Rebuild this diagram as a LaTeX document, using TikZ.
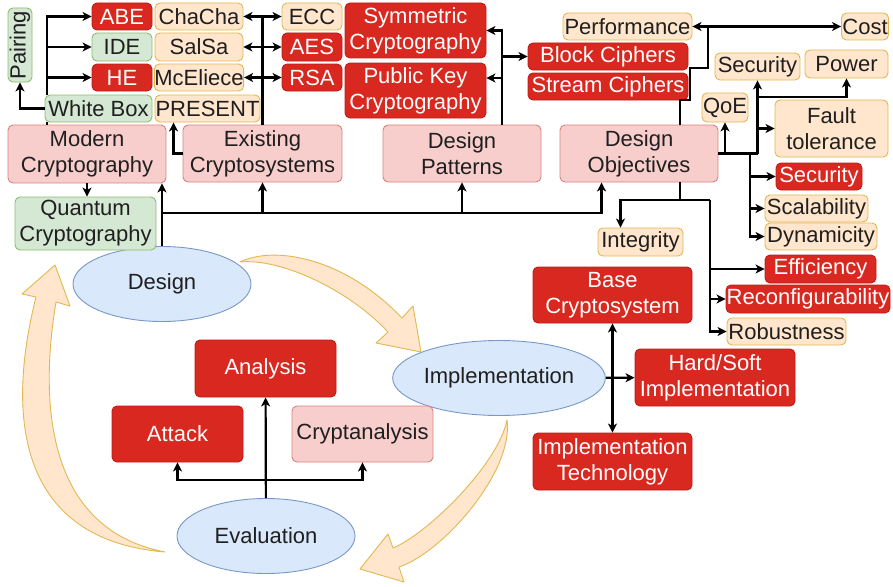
\documentclass[tikz,border=0pt]{standalone}
\usepackage{fontspec}
\setmainfont{Liberation Sans}
\usetikzlibrary{positioning,calc}
\usetikzlibrary{arrows.meta,shapes.geometric}

\definecolor{cred}{RGB}{216,40,32}
\definecolor{credline}{RGB}{190,30,25}
\definecolor{cpink}{RGB}{248,206,204}
\definecolor{cpinkline}{RGB}{214,130,128}
\definecolor{cpeach}{RGB}{255,230,204}
\definecolor{cpeachline}{RGB}{226,184,82}
\definecolor{cgreen}{RGB}{213,232,212}
\definecolor{cgreenline}{RGB}{140,188,112}
\definecolor{cblue}{RGB}{218,232,252}
\definecolor{cblueline}{RGB}{120,152,200}

\begin{document}
\begin{tikzpicture}[>={Stealth[length=9pt,width=9pt,inset=2.5pt]}, x=1pt, y=-1pt, line width=2.2pt,
	font=\fontsize{22}{26}\selectfont,
	box/.style={rounded corners=5pt, line width=0.9pt, inner sep=0pt, align=center, text=black!88},
	rbox/.style={box, fill=cred, draw=credline, text=white},
	obox/.style={box, fill=cpeach, draw=cpeachline},
	pbox/.style={box, fill=cpink, draw=cpinkline},
	gbox/.style={box, fill=cgreen, draw=cgreenline},
	ell/.style={ellipse, fill=cblue, draw=cblueline, line width=0.9pt, inner sep=0pt, minimum width=178, minimum height=75, text=black!88},
	bigarr/.style={fill=cpeach, draw=cpeachline, line width=0.9pt, line join=round}]
\useasboundingbox (0,0) rectangle (893,586);

% cycle arrows
\draw [bigarr] (240,262) .. controls (275,245) and (345,258) .. (402,318) -- (413,306) -- (421,352) -- (376,343) -- (388,332) .. controls (348,289) and (280,258) .. (240,262) -- cycle;
\draw [bigarr] (507,420) .. controls (514,472) and (442,553) .. (399,567) -- (404,582) -- (360,569) -- (388,534) -- (393,548) .. controls (427,534) and (498,465) .. (507,420) -- cycle;
\draw [bigarr] (165,552) .. controls (20,540) and (5,420) .. (36,297) -- (22,294) -- (55,265) -- (70,306) -- (56,302) .. controls (38,410) and (50,530) .. (165,552) -- cycle;

\node [ell] (design) at (162,284) {Design};
\node [ell] (impl) at (499,378) {Implementation};
\node [ell] (eval) at (266,536) {Evaluation};

% top left
\node [gbox, rotate=90, minimum width=74, minimum height=24] (pairing) at (20,45) {Pairing};
\node [rbox, minimum width=60, minimum height=27] (abe) at (122,16.5) {ABE};
\node [gbox, minimum width=60, minimum height=28] (ide) at (122,47) {IDE};
\node [rbox, minimum width=60, minimum height=27] (he) at (122,77.5) {HE};
\node [gbox, minimum width=107, minimum height=27] (wb) at (98.5,108.5) {White Box};
\node [obox, minimum width=88, minimum height=27] (chacha) at (199,16.5) {ChaCha};
\node [obox, minimum width=88, minimum height=28] (salsa) at (199,47) {SalSa};
\node [obox, minimum width=88, minimum height=27] (mceliece) at (199,77.5) {McEliece};
\node [obox, minimum width=105, minimum height=27] (present) at (207.5,108.5) {PRESENT};
\node [obox, minimum width=60, minimum height=27] (ecc) at (312,16.5) {ECC};
\node [rbox, minimum width=60, minimum height=28] (aes) at (312,47) {AES};
\node [rbox, minimum width=60, minimum height=27] (rsa) at (312,77.5) {RSA};
\node [rbox, minimum width=141, minimum height=55] (symm) at (415.5,30.5) {Symmetric\\Cryptography};
\node [rbox, minimum width=141, minimum height=55] (pubkey) at (415.5,90.5) {Public Key\\Cryptography};

\node [pbox, minimum width=158, minimum height=58] (modern) at (87,154) {Modern\\Cryptography};
\node [pbox, minimum width=159, minimum height=57] (existing) at (262.5,153.5) {Existing\\Cryptosystems};
\node [pbox, minimum width=158, minimum height=57] (patterns) at (462,153.5) {Design\\Patterns};
\node [pbox, minimum width=158, minimum height=57] (objectives) at (639,153.5) {Design\\Objectives};
\node [gbox, minimum width=141, minimum height=53] (quantum) at (85.5,223.5) {Quantum\\Cryptography};

% top right
\node [rbox, minimum width=160, minimum height=27] (block) at (608,56.5) {Block Ciphers};
\node [rbox, minimum width=160, minimum height=27] (stream) at (608,86.5) {Stream Ciphers};
\node [obox, minimum width=129, minimum height=27] (perf) at (627.5,26.5) {Performance};
\node [obox, minimum width=47, minimum height=27] (cost) at (865,26.5) {Cost};
\node [obox, minimum width=85, minimum height=27] (sec1) at (757.5,66.5) {Security};
\node [obox, minimum width=83, minimum height=28] (power) at (846.5,64) {Power};
\node [obox, minimum width=46, minimum height=29] (qoe) at (725,107.5) {QoE};
\node [obox, minimum width=113, minimum height=57] (fault) at (831.5,128.5) {Fault\\tolerance};
\node [rbox, minimum width=86, minimum height=27] (secr) at (819,176.5) {Security};
\node [obox, minimum width=103, minimum height=27] (scal) at (816.5,208.5) {Scalability};
\node [obox, minimum width=112, minimum height=27] (dyn) at (821,236.5) {Dynamicity};
\node [obox, minimum width=85, minimum height=28] (integ) at (640.5,242) {Integrity};
\node [rbox, minimum width=111, minimum height=28] (eff) at (820.5,269) {Efficiency};
\node [rbox, minimum width=164, minimum height=28] (reconf) at (808,299) {Reconfigurability};
\node [obox, minimum width=119, minimum height=27] (robust) at (786.5,331.5) {Robustness};

% implementation / evaluation
\node [rbox, minimum width=159, minimum height=56] (basec) at (612.5,295) {Base\\Cryptosystem};
\node [rbox, minimum width=160, minimum height=57] (hardsoft) at (715,377.5) {Hard/Soft\\Implementation};
\node [rbox, minimum width=159, minimum height=57] (impltech) at (612.5,461.5) {Implementation\\Technology};
\node [rbox, minimum width=141, minimum height=57] (analysis) at (265.5,368.5) {Analysis};
\node [rbox, minimum width=131, minimum height=56] (attack) at (177.5,434) {Attack};
\node [pbox, minimum width=141, minimum height=56] (crypta) at (362.5,434) {Cryptanalysis};

% connectors
\coordinate (mc) at (47,125);
\draw (mc) -- (mc |- wb.south);
\coordinate (mt) at (mc |- wb.north);
\draw [->] (mt) |- (abe);
\draw [->] (mt) |- (ide);
\draw [->] (mt) |- (he);
\draw [->] (wb.west) -| (pairing);
\draw [->] (modern.south) -- (modern.south |- quantum.north);

\draw (existing.north) -- (existing.north |- chacha);
\draw [<->] (chacha) -- (ecc);
\draw [<->] (salsa) -- (aes);
\draw [<->] (mceliece) -- (rsa);
\draw [->] (existing.west) -| ($(present.south west)+(19,0)$);

\coordinate (dp) at (502,125);
\draw [->] (dp) |- (symm);
\draw [->] (dp) |- ($(pubkey.east)+(0,-12.5)$);
\draw [->] (dp |- block) -- (block);

\coordinate (dt) at (680,125);
\coordinate (pc) at (708,26.5);
\draw (dt) -- ++(0,-25) -- ++(10,0) -- ++(0,-32) -- ++(18,0) -- (pc);
\draw [<->] (perf) -- (cost);

\coordinate (q1) at (qoe |- objectives.east);
\coordinate (s1) at (sec1 |- objectives.east);
\draw (objectives.east) -- (s1);
\draw [->] (q1) -- (qoe);
\draw [->] (s1) -- (sec1);
\coordinate (pw) at (757.5,97);
\draw [->] (pw) -| (power);
\draw [->] (s1 |- fault) -- (fault);
\coordinate (dd) at (750,153.5);
\draw [->] (dd) |- (secr);
\draw [->] (dd) |- (scal);
\draw [->] (dd) |- (dyn);

\coordinate (db) at (680,182);
\coordinate (dj) at (680,200);
\coordinate (dk) at (710,200);
\draw (db) -- (dj) -- (dk);
\draw [->] (dj) -| ($(integ.north)+(-20,0)$);
\draw [->] (dk) |- (eff);
\draw [->] (dk) |- (reconf);
\draw [->] (dk) |- (robust);

\coordinate (bus) at (162,213);
\draw [->] (design) -- (bus) -- (bus |- modern.south);
\draw [->] (bus) -| (existing);
\draw [->] (bus) -| (patterns);
\draw [->] (bus) -| ($(objectives.south west)+(42,0)$);

\draw [->] (impl) -- (hardsoft);
\draw [<->] (basec) -- (impltech);

\draw [->] (eval) -- (analysis);
\coordinate (ej) at (266,480);
\draw [->] (ej) -| (attack);
\draw [->] (ej) -| (crypta);

\end{tikzpicture}
\end{document}
